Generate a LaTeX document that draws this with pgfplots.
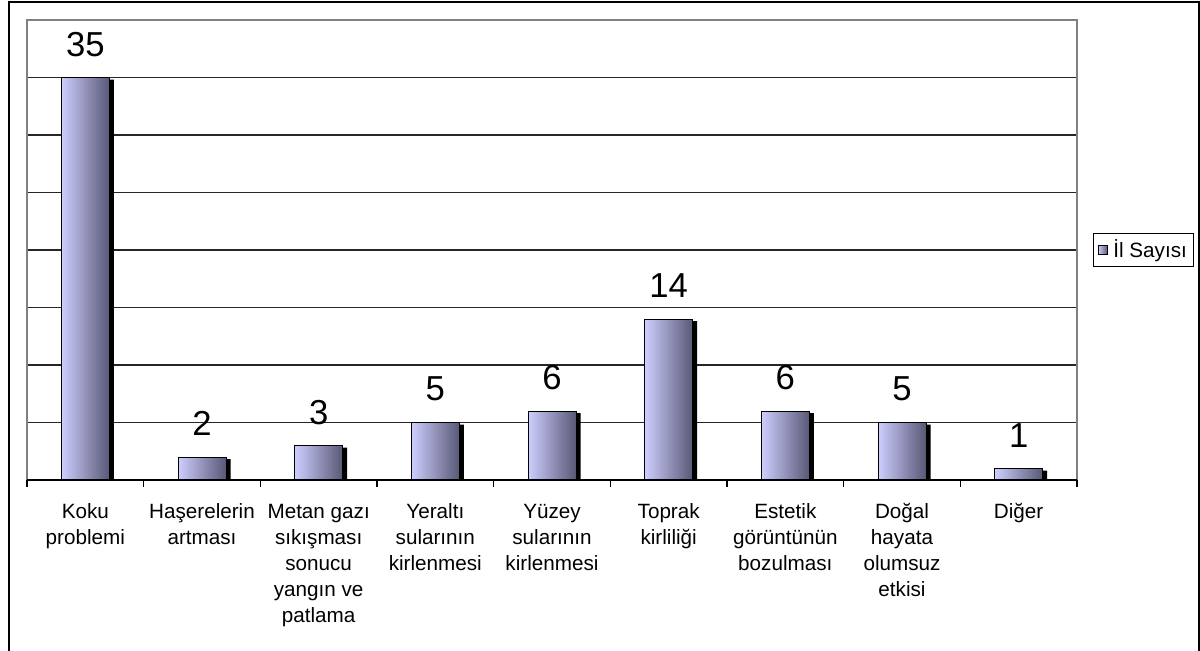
\documentclass[border=0pt]{standalone}
\usepackage{pgfplots}
\pgfplotsset{compat=1.18}
\usepackage{fontspec}
\setmainfont{Liberation Sans}
\definecolor{barL}{RGB}{206,206,255}
\definecolor{barM}{RGB}{160,160,205}
\definecolor{barR}{RGB}{88,88,118}
\newcommand\st{\rule{0pt}{14pt}}
\pgfplotsset{
  mybar/.style={bar shift=0pt, draw=black, line width=0.6pt, left color=barL, middle color=barM, right color=barR,
    nodes near coords, every node near coord/.append style={anchor=center, yshift=25pt, font=\fontsize{26}{26}\selectfont, text=black}},
}
\begin{document}
\begin{tikzpicture}
\useasboundingbox (0,0) rectangle (900pt,-487.5pt);
% outer frame
\draw[line width=1.5pt] (6.75pt,-490pt) -- (6.75pt,-1.5pt) -- (899.25pt,-1.5pt) -- (899.25pt,-490pt);
\begin{axis}[
  name=ax,
  at={(20.25pt,-15pt)}, anchor=north west,
  scale only axis, width=787.5pt, height=345pt,
  ybar,
  xmin=-0.5, xmax=8.5, ymin=0, ymax=40,
  axis line style={draw=none},
  ytick={5,10,...,35}, yticklabels={}, ytick style={draw=none},
  ymajorgrids, grid style={black!85, line width=1.1pt},
  xtick={0,...,8}, major tick length=0pt,
  minor xtick={-0.5,0.5,...,8.5}, minor tick length=5pt,
  xtick align=outside, xtick pos=lower,
  minor x tick style={black, line width=0.9pt},
  xticklabels={{\st Koku\\problemi},{\st Haşerelerin\\artması},{\st Metan gazı\\sıkışması\\sonucu\\yangın ve\\patlama},{\st Yeraltı\\sularının\\kirlenmesi},{\st Yüzey\\sularının\\kirlenmesi},{\st Toprak\\kirliliği},{\st Estetik\\görüntünün\\bozulması},{\st Doğal\\hayata\\olumsuz\\etkisi},{\st Diğer}},
  xticklabel style={align=center, font=\fontsize{15.5}{19.5}\selectfont, anchor=north, yshift=-11.5pt},
  /pgf/number format/assume math mode=true,
  bar width=36pt,
  legend style={at={(rel axis cs:1,0.5)}, anchor=west, xshift=12pt, draw=black, line width=0.9pt,
    font=\fontsize{15.5}{16}\selectfont, inner xsep=3pt, inner ysep=3pt},
  legend image code/.code={\draw[left color=barL, right color=barR, draw=black, line width=0.6pt] (0pt,-3.6pt) rectangle (7.2pt,3.6pt);},
  legend cell align=left,
]
\addplot[bar shift=3.4pt, fill=black, draw=none, yshift=-1.5pt, forget plot]
  coordinates {(0,35) (1,2) (2,3) (3,5) (4,6) (5,14) (6,6) (7,5) (8,1)};
\addplot[mybar] coordinates {(0,35)};
\addlegendentry{\hspace{2pt}İl Sayısı}
\addplot[mybar, forget plot] coordinates {(1,2)};
\addplot[mybar, forget plot] coordinates {(2,3)};
\addplot[mybar, forget plot] coordinates {(3,5)};
\addplot[mybar, forget plot] coordinates {(4,6)};
\addplot[mybar, forget plot] coordinates {(5,14)};
\addplot[mybar, forget plot] coordinates {(6,6)};
\addplot[mybar, forget plot] coordinates {(7,5)};
\addplot[mybar, forget plot] coordinates {(8,1)};
\end{axis}
\draw[gray, line width=1pt] (ax.south west) -- (ax.north west) -- (ax.north east) -- (ax.south east);
\draw[black, line width=1.5pt] (ax.south west) -- (ax.south east);
\end{tikzpicture}
\end{document}
